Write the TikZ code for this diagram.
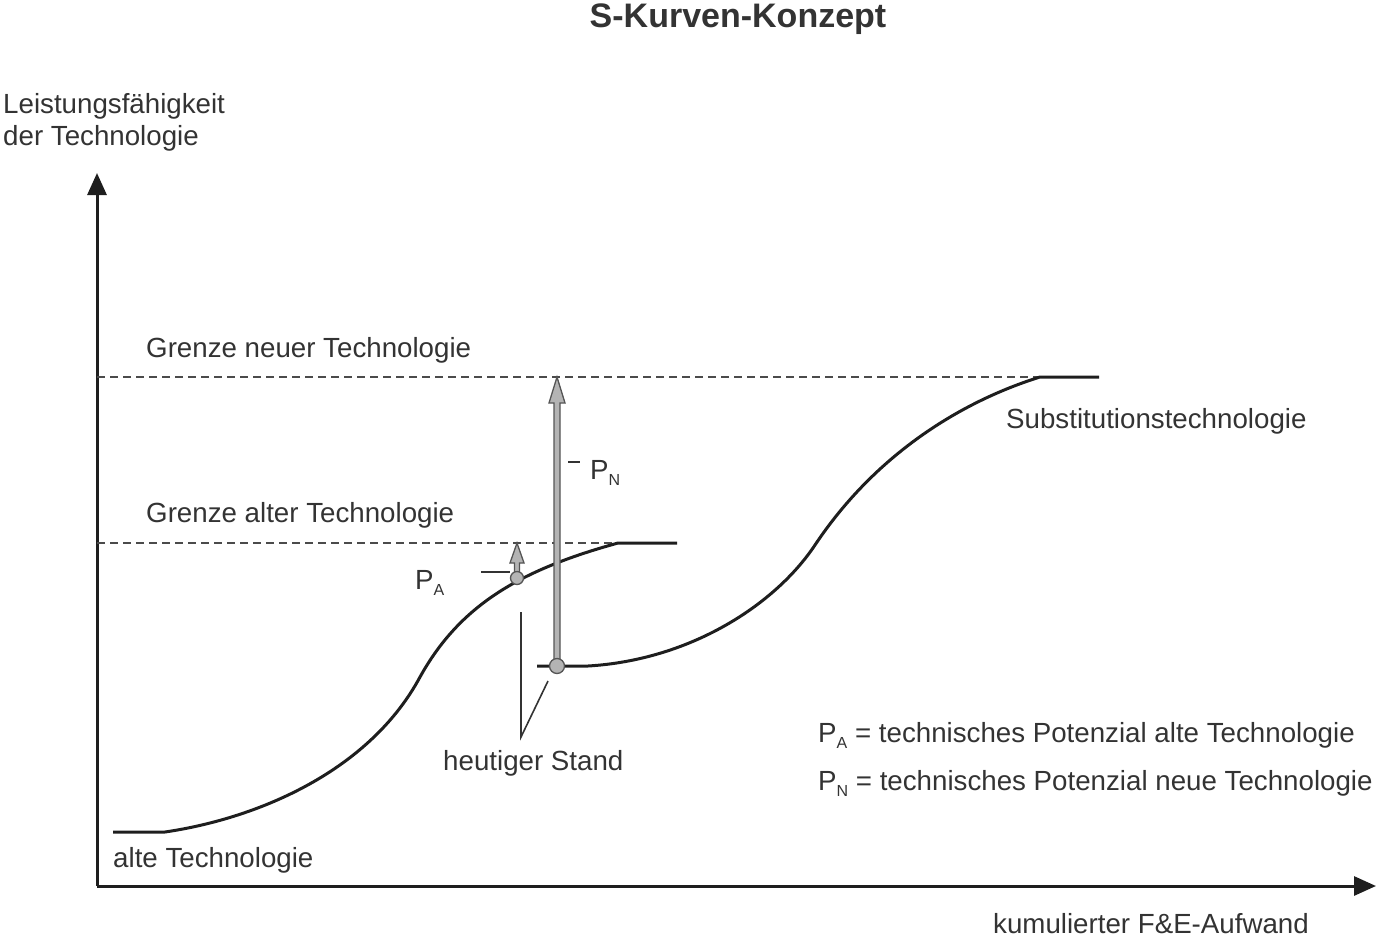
\documentclass[tikz,border=0pt]{standalone}
\usepackage{fontspec}
\setmainfont{Liberation Sans}
\usetikzlibrary{arrows.meta}
\definecolor{txt}{HTML}{333333}
\definecolor{ln}{HTML}{1E1E1E}
\definecolor{arrfill}{HTML}{B4B4B4}
\definecolor{arrline}{HTML}{555555}
\newcommand{\sub}[1]{{\fontsize{16}{16}\selectfont\raisebox{-6pt}{#1}}}
\begin{document}
\begin{tikzpicture}[x=1pt,y=-1pt,
  lbl/.style={anchor=base west,inner sep=0pt,text=txt,font=\fontsize{27.7}{30}\selectfont},
  axis/.style={line width=3pt,draw=ln,-{Triangle[length=22pt,width=19pt]}},
  curve/.style={line width=3pt,draw=ln,line join=round},
  limit/.style={line width=1.4pt,draw=ln!80,dash pattern=on 8pt off 5pt},
  thin/.style={line width=1.6pt,draw=txt},
  potarrow/.style={fill=arrfill,draw=arrline,line width=1.3pt,line join=miter},
  dot/.style={circle,fill=arrfill,draw=arrline,line width=1.3pt,inner sep=0pt}
]
\useasboundingbox (0,0) rectangle (1376,938);

% title
\node[anchor=base,inner sep=0pt,text=txt,font=\fontsize{34}{36}\selectfont\bfseries] (title) at (738,27) {S-Kurven-Konzept};

% axes
\coordinate (O) at (97,886);
\coordinate (ytip) at (97,173);
\coordinate (xtip) at (1376,886);
\draw[axis] (O) -- (ytip);
\draw[axis] (O) -- (xtip);

% axis labels
\node[lbl] (ylab1) at (3,113) {Leistungsfähigkeit};
\node[lbl] (ylab2) at (3,145) {der Technologie};
\node[lbl] (xlab) at (993,933) {kumulierter F\&E-Aufwand};

% limits
\coordinate (gn0) at (97,377);
\coordinate (gn1) at (1045,377);
\coordinate (ga0) at (97,543);
\coordinate (ga1) at (620,543);
\draw[limit] (gn0) -- (gn1);
\draw[limit] (ga0) -- (ga1);
\node[lbl] (gnlab) at (146,357) {Grenze neuer Technologie};
\node[lbl] (galab) at (146,522) {Grenze alter Technologie};

% old technology curve
\draw[curve] (113,832) -- (165,832)
  .. controls (260,818) and (370,770) .. (420,677)
  .. controls (460,605) and (520,570) .. (618,543)
  -- (677,543);
% new technology curve
\draw[curve] (537,666) -- (588,666)
  .. controls (690,660) and (775,605) .. (815,545)
  .. controls (875,455) and (960,402) .. (1040,377)
  -- (1099,377);

\node[lbl] (oldlab) at (113,867) {alte Technologie};
\node[lbl] (newlab) at (1006,428) {Substitutionstechnologie};

% potential arrows
\draw[potarrow] (554,666) -- (554,403) -- (549,403) -- (557,377) -- (565,403) -- (560,403) -- (560,666) -- cycle;
\node[dot,minimum size=15pt] (pn) at (557,666) {};
\draw[potarrow] (514.5,578) -- (514.5,563) -- (510,563) -- (517,543) -- (524,563) -- (519.5,563) -- (519.5,578) -- cycle;
\node[dot,minimum size=13pt] (pa) at (517,578) {};

% labels P_A, P_N
\node[lbl] (palab) at (415,589) {P\sub{A}};
\node[lbl] (pnlab) at (590,479) {P\sub{N}};
\draw[thin] (481,572) -- (510,572);
\draw[thin] (568,462) -- (580,462);

% heutiger Stand
\node[lbl] (stand) at (443,770) {heutiger Stand};
\coordinate (s1) at (521,612);
\coordinate (s2) at (521,737);
\coordinate (s3) at (548,681);
\draw[thin] (s1) -- (s2) -- (s3);

% legend
\node[lbl] (leg1) at (818,742) {P\sub{A} = technisches Potenzial alte Technologie};
\node[lbl] (leg2) at (818,790) {P\sub{N} = technisches Potenzial neue Technologie};
\end{tikzpicture}
\end{document}
